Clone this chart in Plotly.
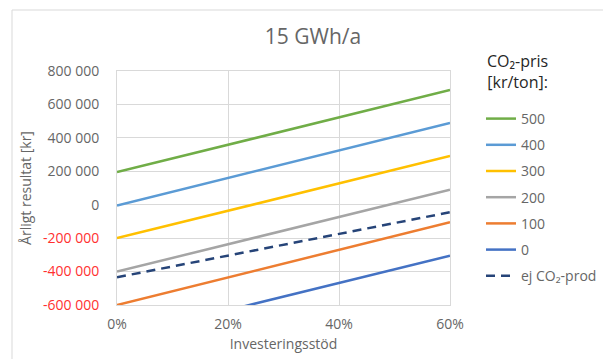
import plotly.graph_objects as go

# Investment subsidy share (x) and yearly result [kr] at the start and end of the range
stod = [0.0, 0.6]
co2_pris = ["500", "400", "300", "200", "100", "0"]
resultat = {
    "500": [195000, 686000],
    "400": [-5000, 489000],
    "300": [-200000, 291000],
    "200": [-400000, 90000],
    "100": [-600000, -105000],
    "0": [-795000, -305000],
}
ej_co2_prod = [-434000, -45000]

farger = {
    "500": "#70AD47",
    "400": "#5B9BD5",
    "300": "#FFC000",
    "200": "#A5A5A5",
    "100": "#ED7D31",
    "0": "#4472C4",
}

y_ticks = [800000, 600000, 400000, 200000, 0, -200000, -400000, -600000]
x_ticks = [0.0, 0.2, 0.4, 0.6]
x_ticktext = ["0%", "20%", "40%", "60%"]

FONT = "Open Sans"
GRA = "#666666"
ROD = "#FF3030"


def fmt(v):
    s = f"{abs(v):,}".replace(",", " ")
    if v < 0:
        return f'<span style="color:{ROD}">-{s}</span>'
    return s


fig = go.Figure()
for i, p in enumerate(co2_pris):
    fig.add_trace(go.Scatter(
        x=stod, y=resultat[p], mode="lines", name=p,
        line=dict(color=farger[p], width=2.5),
        legendgroup=f"g{i}",
    ))
fig.add_trace(go.Scatter(
    x=stod, y=ej_co2_prod, mode="lines", name="ej CO₂-prod",
    line=dict(color="#264478", width=2.5, dash="9px,6px"),
    legendgroup="g_ej",
))

# plot-area geometry in pixels
W, H = 603, 359
L, R, T, B = 117, 450, 71, 305
pw, ph = R - L, B - T


def px(x):
    return (x - L) / pw


def py(y):
    return (B - y) / ph


fig.update_layout(
    width=W, height=H,
    margin=dict(l=L, r=W - R, t=T, b=H - B, autoexpand=False),
    paper_bgcolor="white", plot_bgcolor="white",
    font=dict(family=FONT, color=GRA, size=14),
    title=dict(text="15 GWh/a", xref="paper", x=px(313), xanchor="center",
               yref="container", y=1 - 37 / H, yanchor="middle",
               font=dict(size=21, color=GRA, family=FONT)),
    showlegend=True,
    legend=dict(x=px(481), xanchor="left", y=py(103), yanchor="top",
                font=dict(size=14, color=GRA, family=FONT),
                traceorder="grouped", tracegroupgap=5,
                bgcolor="rgba(0,0,0,0)"),
    xaxis=dict(range=[0, 0.6], tickvals=x_ticks, ticktext=x_ticktext,
               showgrid=True, gridcolor="#D9D9D9", gridwidth=1,
               showline=True, linecolor="#D9D9D9", linewidth=1, mirror=True,
               zeroline=False, ticks="", ticklabelstandoff=6, automargin=False,
               tickfont=dict(size=14, color=GRA),
               title=dict(text="Investeringsstöd", standoff=7,
                          font=dict(size=14, color=GRA))),
    yaxis=dict(range=[-600000, 800000], tickvals=y_ticks,
               ticktext=[fmt(v) for v in y_ticks],
               showgrid=True, gridcolor="#D9D9D9", gridwidth=1,
               showline=True, linecolor="#D9D9D9", linewidth=1, mirror=True,
               zeroline=False, ticks="", ticklabelstandoff=14, automargin=False,
               tickfont=dict(size=14, color=GRA),
               title=dict(text="Årligt resultat [kr]", standoff=8,
                          font=dict(size=14, color=GRA))),
    shapes=[dict(type="rect", xref="paper", yref="paper",
                 x0=px(12), x1=px(610), y0=py(370), y1=py(10),
                 line=dict(color="#D9D9D9", width=1), layer="below")],
    annotations=[dict(text="CO₂-pris<br>[kr/ton]:", xref="paper", yref="paper",
                      x=px(517), y=py(71), xanchor="center", yanchor="middle",
                      showarrow=False, align="center",
                      font=dict(size=16, color="#262626", family=FONT))],
)

fig.write_html("out.html")
